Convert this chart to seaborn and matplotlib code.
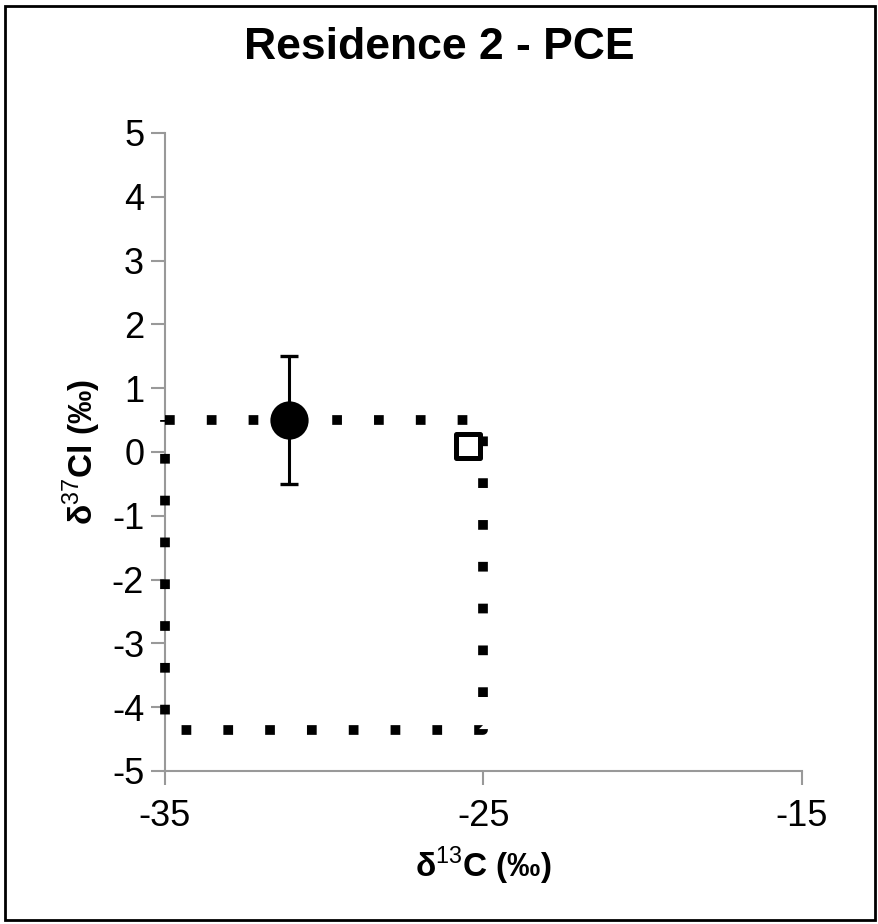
import numpy as np
import pandas as pd
import seaborn as sns
import matplotlib.pyplot as plt

# data
box_x = [-35, -25, -25, -35, -35]
box_y = [0.5, 0.5, -4.35, -4.35, 0.5]
meas_x = [-31.1]
meas_y = [0.5]
meas_err = [1.0]
ref_x = [-25.5]
ref_y = [0.1]
x_ticks = [-35, -25, -15]
y_ticks = [-5, -4, -3, -2, -1, 0, 1, 2, 3, 4, 5]

sns.set_theme(style='white')
plt.rcParams['font.family'] = ['Liberation Sans', 'DejaVu Sans']
plt.rcParams['mathtext.fontset'] = 'custom'
plt.rcParams['mathtext.rm'] = 'Liberation Sans'
plt.rcParams['mathtext.bf'] = 'Liberation Sans:bold'

fig = plt.figure(figsize=(8.79, 9.24), dpi=100)
ax = fig.add_axes([0.1877, 0.1656, 0.7247, 0.6905])

box = pd.DataFrame({'x': box_x, 'y': box_y})
sns.lineplot(data=box, x='x', y='y', sort=False, estimator=None, ax=ax,
             color='black', linewidth=7, linestyle=(0, (1, 3.3)),
             dash_capstyle='butt', clip_on=False, zorder=3)

ax.errorbar(meas_x, meas_y, yerr=meas_err, fmt='none', ecolor='black',
            elinewidth=2.2, capsize=6.5, capthick=2.4, zorder=4)
sns.scatterplot(x=meas_x, y=meas_y, ax=ax, marker='o', s=650,
                color='black', edgecolor='black', zorder=5)
sns.scatterplot(x=ref_x, y=ref_y, ax=ax, marker='s', s=280,
                facecolor='white', edgecolor='black', linewidth=3.6, zorder=5)

ax.set_xlim(-35, -15)
ax.set_ylim(-5, 5)
ax.set_xticks(x_ticks)
ax.set_yticks(y_ticks)
ax.set_xticklabels([str(t) for t in x_ticks])
ax.set_yticklabels([str(t) for t in y_ticks])

for side in ['top', 'right']:
    ax.spines[side].set_visible(False)
for side in ['left', 'bottom']:
    ax.spines[side].set_color('#999999')
    ax.spines[side].set_linewidth(1.5)
    ax.spines[side].set_zorder(1)

ax.tick_params(axis='both', which='major', direction='out', length=10,
               width=1.5, color='#999999', labelsize=26, labelcolor='black',
               left=True, bottom=True)
ax.tick_params(axis='x', pad=10)
ax.tick_params(axis='y', pad=5)

ax.set_xlabel('δ$^{\\mathrm{13}}$C (‰)', fontsize=24, fontweight='bold',
              color='black', labelpad=8)
ax.set_ylabel('δ$^{\\mathrm{37}}$Cl (‰)', fontsize=24, fontweight='bold',
              color='black', labelpad=6)
fig.text(0.5, 0.949, 'Residence 2 - PCE', fontsize=32, fontweight='bold',
         color='black', ha='center', va='center')

# outer frame round the whole picture
frame = plt.Rectangle((0.006, 0.004), 0.99, 0.99, transform=fig.transFigure,
                      fill=False, edgecolor='black', linewidth=2)
fig.patches.append(frame)

fig.savefig('out.png', dpi=100)
